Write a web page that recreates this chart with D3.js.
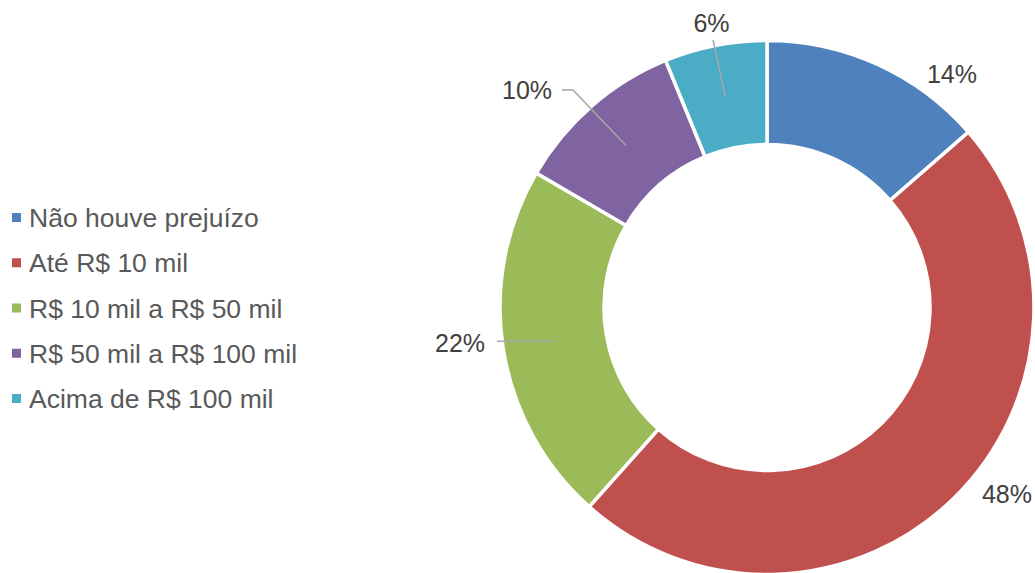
<!DOCTYPE html>
<html><head><meta charset="utf-8">
<script src="https://cdn.jsdelivr.net/npm/d3@7"></script>
<style>html,body{margin:0;padding:0;background:#fff;}svg{display:block;}</style>
</head><body>
<svg id="chart" width="1035" height="573"></svg>
<script>
// ---- data ----
const categories = ["Não houve prejuízo", "Até R$ 10 mil", "R$ 10 mil a R$ 50 mil", "R$ 50 mil a R$ 100 mil", "Acima de R$ 100 mil"];
const values = [13.6, 48.0, 21.8, 10.4, 6.2];
const colors = ["#4F81BD", "#C0504D", "#9BBB59", "#8064A2", "#4BACC6"];

// ---- layout (not data) ----
const W = 1035, H = 573;
const cx = 767, cy = 307.5, outerR = 267, innerR = 163;
// label text centers relative to donut center
const labelLayout = [
  {dx: 185, dy: -233.5, leader: false},
  {dx: 240, dy: 186.5, leader: false},
  {dx: -307, dy: 35.5, leader: true},
  {dx: -240, dy: -217.5, leader: true},
  {dx: -55.5, dy: -284.5, leader: true}
];

const svg = d3.select("#chart");
const g = svg.append("g").attr("transform", `translate(${cx},${cy})`);

const pie = d3.pie().sort(null).value(d => d)(values);
const arc = d3.arc().innerRadius(innerR).outerRadius(outerR);

g.selectAll("path.slice").data(pie).join("path")
  .attr("class", "slice")
  .attr("d", arc)
  .attr("fill", (d, i) => colors[i])
  .attr("stroke", "#fff")
  .attr("stroke-width", 3.5)
  .attr("stroke-linejoin", "miter");

// labels
const fmt = v => Math.round(v) + "%";
pie.forEach((d, i) => {
  const L = labelLayout[i];
  const [px, py] = arc.centroid(d);
  if (L.leader) {
    let pts;
    if (i === 2) pts = [[L.dx + 37, py], [px, py]];
    else if (i === 4) pts = [[L.dx + 1.5, L.dy + 17], [px, py]];
    else pts = [[L.dx + 35, L.dy], [L.dx + 46, L.dy], [px, py]];
    g.append("path")
      .attr("d", d3.line()(pts))
      .attr("fill", "none")
      .attr("stroke", "#A6A6A6")
      .attr("stroke-width", 1.5);
  }
  g.append("text")
    .attr("x", L.dx)
    .attr("y", L.dy + 9)
    .attr("text-anchor", "middle")
    .attr("font-family", "Liberation Sans, Arial, sans-serif")
    .attr("font-size", 25)
    .attr("fill", "#404040")
    .text(fmt(values[i]));
});

// legend
const legend = svg.append("g");
const rowY = d3.scalePoint().domain(categories).range([217.5, 398.5]);
categories.forEach((c, i) => {
  const y = rowY(c);
  legend.append("rect")
    .attr("x", 12).attr("y", y - 4.5)
    .attr("width", 9).attr("height", 9)
    .attr("fill", colors[i]);
  legend.append("text")
    .attr("x", 29).attr("y", y + 9.5)
    .attr("font-family", "Liberation Sans, Arial, sans-serif")
    .attr("font-size", 26.5)
    .attr("fill", "#595959")
    .text(c);
});
</script>
</body></html>
